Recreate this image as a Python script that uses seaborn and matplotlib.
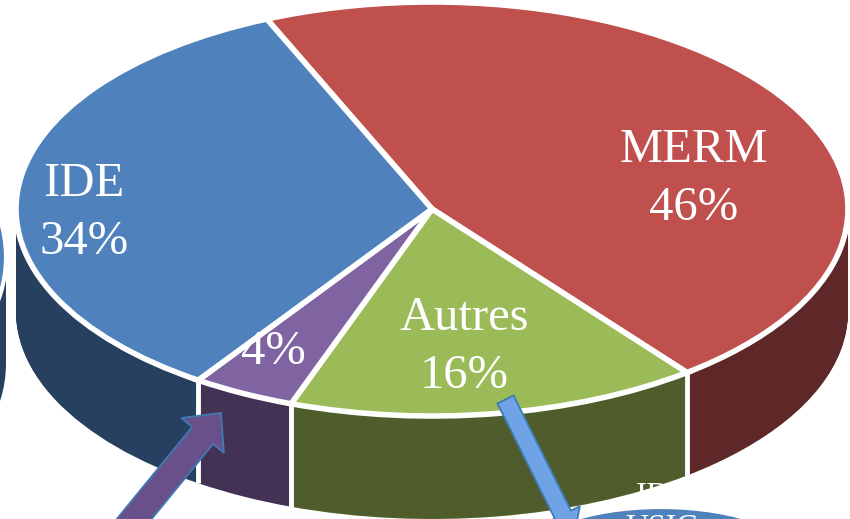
import numpy as np
import matplotlib
matplotlib.use('Agg')
import matplotlib.pyplot as plt
from matplotlib.patches import Ellipse, Polygon, Rectangle
import seaborn as sns

# pie values
labels = ['MERM', 'Autres', '', 'IDE']
values = [46, 16, 4, 34]
top_colors = ['#c0504d', '#9bbb59', '#8064a2', '#4f81bd']
side_colors = ['#5f2828', '#4e5d2b', '#433253', '#27405f']

W, H = 850, 519
cx, cy, rx, ry = 432, 209, 416, 207
depth = 103
start = 113.4

sns.set_theme(style='white')
plt.rcParams['font.family'] = ['Liberation Serif', 'DejaVu Serif']

fig = plt.figure(figsize=(W / 100, H / 100), dpi=100)
ax = fig.add_axes([0, 0, 1, 1])
palette = sns.color_palette(top_colors)
dark = sns.color_palette(side_colors)


# pixel position of the picture -> pie coordinates
def px(x, y):
    return (x - cx) / rx, (cy - y) / ry


def ell(x, y, w, h, **kw):
    return Ellipse(px(x, y), 2 * w / rx, 2 * h / ry, **kw)


def arrow(tail, tip, shaft, head, head_len, fill, edge):
    tail, tip = np.array(tail, float), np.array(tip, float)
    d = (tip - tail) / np.linalg.norm(tip - tail)
    n = np.array([-d[1], d[0]])
    neck = tip - d * head_len
    pts = [tail + n * shaft / 2, neck + n * shaft / 2, neck + n * head / 2, tip,
           neck - n * head / 2, neck - n * shaft / 2, tail - n * shaft / 2]
    ax.add_patch(Polygon([px(*p) for p in pts], closed=True, facecolor=fill,
                         edgecolor=edge, lw=1.3, zorder=20, joinstyle='miter'))


# other pie, cut by the left border
ax.add_patch(ell(-70, 363, 76, 98, facecolor=side_colors[3], edgecolor='none', zorder=1))
ax.add_patch(Rectangle(px(-146, 363), 152 / rx, 106 / ry, facecolor=side_colors[3],
                       edgecolor='none', zorder=1))
ax.add_patch(ell(-70, 257, 76, 98, facecolor=top_colors[3], edgecolor='white', lw=3, zorder=2))

# side wall: same pie stacked downwards
for d in range(depth, 0, -1):
    ax.pie(values, colors=dark, startangle=start, counterclock=False,
           center=(0, -d / ry), wedgeprops={'edgecolor': 'none', 'zorder': 3})

# white lines between the wall parts
angles = start - np.cumsum(values) / np.sum(values) * 360
for a in angles:
    x, y = np.cos(np.radians(a)), np.sin(np.radians(a))
    if y < 0:
        ax.plot([x, x], [y, y - depth / ry], color='white', lw=3.5, zorder=4,
                solid_capstyle='butt')

# top face
ax.pie(values, colors=palette, startangle=start, counterclock=False,
       wedgeprops={'edgecolor': 'white', 'linewidth': 4, 'zorder': 5})

ax.set_aspect('auto')
ax.set_xlim((0 - cx) / rx, (W - cx) / rx)
ax.set_ylim((cy - H) / ry, cy / ry)
ax.axis('off')

# labels, name and percent on their own baselines
fs = 35
text_pos = [(694, 162, 220), (464, 330, 388), (273, 0, 364), (84, 196, 254)]
for name, v, (x, y1, y2) in zip(labels, values, text_pos):
    if name:
        ax.text(*px(x, y1), name, color='white', fontsize=fs, ha='center', va='baseline', zorder=10)
    ax.text(*px(x, y2), f'{v}%', color='white', fontsize=fs, ha='center', va='baseline', zorder=10)

# clipped label of the other pie, only shows on the green wall
ax.text(*px(664, 497), 'IDE', color='white', fontsize=24, ha='center', va='center', zorder=6)

# other pie at the bottom
ax.add_patch(ell(661, 562, 140, 55, facecolor=top_colors[3], edgecolor='white', lw=3, zorder=7))
ax.text(*px(662, 529), 'USIC', color='white', fontsize=23, ha='center', va='center', zorder=8)

# arrows
arrow((117, 540), (221, 413), 27, 55, 29, '#69508a', '#3f7ab5')
arrow((505.5, 399.5), (574, 537), 18, 38, 25, '#6fa3e6', '#3f7ab5')

fig.savefig('out.png', dpi=100)
